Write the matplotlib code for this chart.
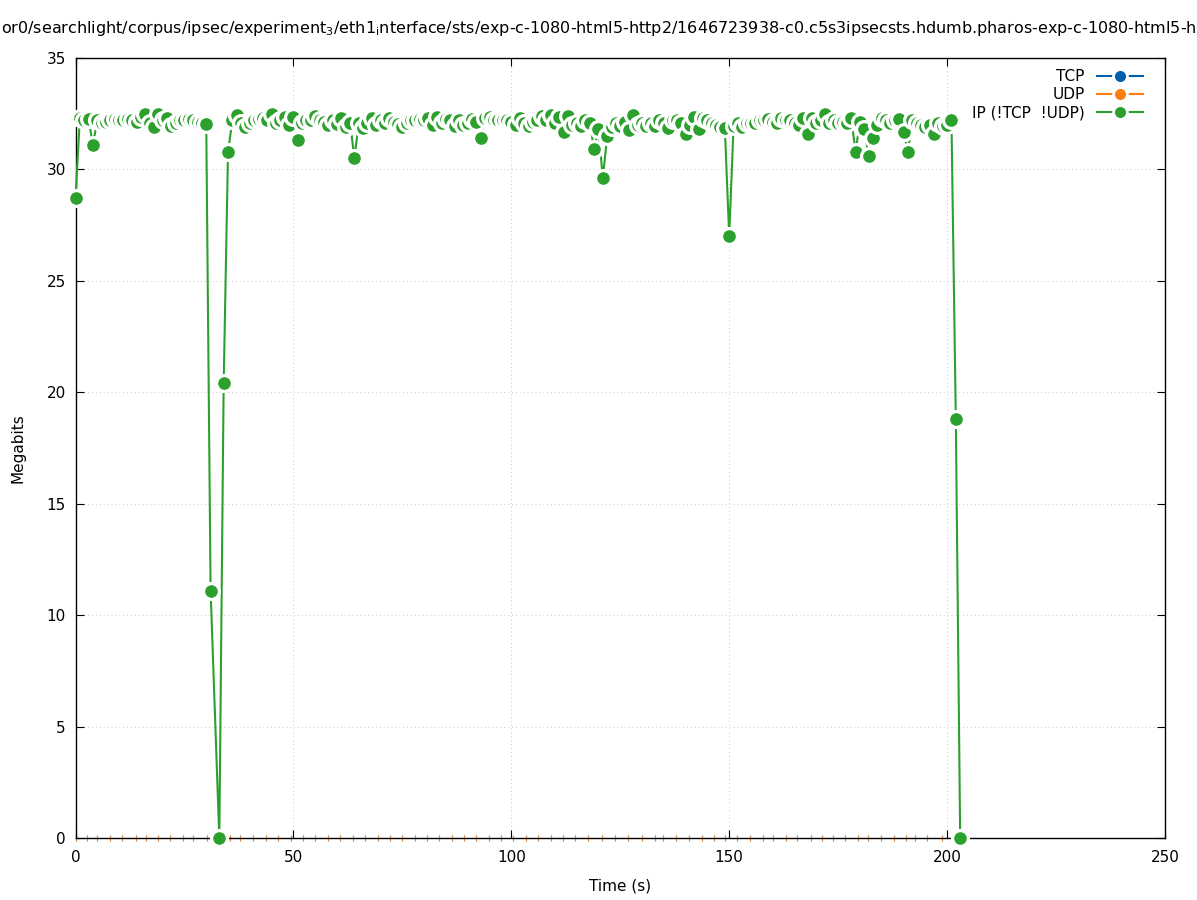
import matplotlib
matplotlib.use("Agg")
import matplotlib.pyplot as plt
from matplotlib.lines import Line2D


# sample times (s) -- one sample missing around t=32
time_s = list(range(0, 32)) + list(range(33, 204))

ip_mbit = [
    28.7, 32.3, 32.2, 32.25, 31.1, 32.2, 32.1, 32.15, 32.2, 32.25,      # 0-9
    32.2, 32.2, 32.25, 32.2, 32.15, 32.35, 32.5, 32.1, 31.9, 32.5,      # 10-19
    32.2, 32.3, 31.95, 32.1, 32.2, 32.2, 32.25, 32.2, 32.15, 32.1,      # 20-29
    32.05, 11.1,                                                        # 30-31
    0.0, 20.4, 30.8, 32.2, 32.45, 32.1, 31.9,                           # 33-39
    32.1, 32.2, 32.25, 32.3, 32.2, 32.5, 32.1, 32.2, 32.35, 32.0,       # 40-49
    32.35, 31.3, 32.1, 32.2, 32.2, 32.4, 32.2, 32.15, 32.0, 32.2,       # 50-59
    32.05, 32.3, 31.9, 32.1, 30.5, 32.1, 31.85, 32.1, 32.3, 32.0,       # 60-69
    32.2, 32.1, 32.3, 32.15, 32.05, 31.9, 32.1, 32.2, 32.2, 32.25,      # 70-79
    32.2, 32.3, 32.0, 32.35, 32.1, 32.25, 32.2, 31.95, 32.2, 32.0,      # 80-89
    32.1, 32.25, 32.15, 31.4, 32.3, 32.35, 32.2, 32.2, 32.2, 32.2,      # 90-99
    32.15, 32.0, 32.3, 32.1, 31.95, 32.15, 32.2, 32.4, 32.2, 32.45,     # 100-109
    32.1, 32.35, 31.7, 32.4, 32.0, 32.1, 31.95, 32.2, 32.1, 30.9,       # 110-119
    31.8, 29.6, 31.5, 31.9, 32.1, 31.95, 32.15, 31.75, 32.45, 32.0,     # 120-129
    32.1, 31.95, 32.1, 31.95, 32.2, 32.1, 31.85, 32.2, 32.2, 32.1,      # 130-139
    31.6, 32.0, 32.35, 31.8, 32.3, 32.2, 32.1, 32.0, 31.9, 31.85,       # 140-149
    27.0, 31.95, 32.1, 31.9, 32.1, 32.1, 32.1, 32.2, 32.2, 32.25,       # 150-159
    32.15, 32.1, 32.3, 32.2, 32.2, 32.1, 32.0, 32.3, 31.6, 32.3,        # 160-169
    32.1, 32.2, 32.5, 32.1, 32.2, 32.1, 32.15, 32.1, 32.3, 30.8,        # 170-179
    32.15, 31.8, 30.6, 31.4, 32.0, 32.3, 32.2, 32.1, 32.2, 32.25,       # 180-189
    31.7, 30.8, 32.2, 32.1, 32.0, 31.9, 32.0, 31.6, 32.1, 31.95,        # 190-199
    32.0, 32.2, 18.8, 0.0,                                              # 200-203
]

# TCP / UDP samples are all zero
udp_t = [0, 2.7, 5.0, 7.9, 10.7, 13.9, 16.2, 18.9, 21.7, 24.7, 27.0, 30.1,
         35.4, 37.7, 40.8, 43.8, 46.5, 49.4, 52.2, 55.0, 57.9, 60.8, 63.6,
         66.4, 69.3, 72.1, 75.0, 77.8, 80.6, 83.5, 86.3, 89.2, 92.0, 94.8,
         97.7, 100.5, 103.4, 106.2, 109.0, 111.9, 114.7, 117.6, 120.7, 123.8,
         126.8, 129.9, 132.9, 134.7, 137.7, 140.8, 143.8, 146.4, 149.1, 151.7,
         154.7, 157.8, 160.0, 163.0, 165.6, 168.7, 171.3, 173.9, 176.5, 179.6,
         181.8, 184.8, 187.9, 190.5, 192.7, 195.3, 198.8]
tcp_mbit = [0.0] * len(udp_t)
udp_mbit = [0.0] * len(udp_t)

series_labels = ["TCP", "UDP", "IP (!TCP  !UDP)"]
x_ticks = [0, 50, 100, 150, 200, 250]
y_ticks = [0, 5, 10, 15, 20, 25, 30, 35]

title = ("or0/searchlight/corpus/ipsec/experiment$_3$/eth1$_\\mathrm{i}$nterface/sts/"
         "exp-c-1080-html5-http2/1646723938-c0.c5s3ipsecsts.hdumb.pharos-exp-c-1080-html5-http2")

c_tcp = "#0060ad"
c_udp = "#ff7f0e"
c_ip = "#2ca02c"

plt.rcParams["font.family"] = ["DejaVu Sans"]
plt.rcParams["font.size"] = 11

fig = plt.figure(figsize=(11.97, 9.0), dpi=100)
ax = fig.add_axes([75.5 / 1197, 62 / 900, (1165 - 75.5) / 1197, 780 / 900])

# zero series drawn as short ticks along the axis
ax.plot(udp_t, tcp_mbit, ls="none", marker="|", ms=5, mew=0.8,
        color=c_tcp, alpha=0.5, clip_on=False, zorder=2)
ax.plot(udp_t, udp_mbit, ls="none", marker="|", ms=5, mew=0.8,
        color=c_udp, alpha=0.7, clip_on=False, zorder=2.1)

# linespoints with a white halo around each point
ax.plot(time_s, ip_mbit, color=c_ip, lw=1.5, marker="o", ms=11.4,
        mfc=c_ip, mec="white", mew=2.3, clip_on=False, zorder=3)

ax.set_xlim(0, 250)
ax.set_ylim(0, 35)
ax.set_xticks(x_ticks)
ax.set_yticks(y_ticks)
ax.tick_params(direction="in", length=6, width=0.8, top=True, right=True,
               labelsize=11, pad=7)
ax.tick_params(axis="x", pad=9)
ax.grid(True, color="#c8c8c8", lw=0.7, ls=(0, (1, 3)))
for s in ax.spines.values():
    s.set_linewidth(1.0)

fig.text(0.001, 1 - 28 / 900, title, ha="left", va="center", fontsize=11.5)
fig.text(18 / 1197, 1 - 448 / 900, "Megabits", rotation=90, ha="center", va="center")
fig.text(620 / 1197, 1 - 886 / 900, "Time (s)", ha="center", va="center")

handles = [
    Line2D([], [], color=c, lw=1.5, marker="o", ms=10, mfc=c, mec="white", mew=2)
    for c in (c_tcp, c_udp, c_ip)
]
ax.legend(handles, series_labels, loc="upper right",
          bbox_to_anchor=(1149 / 1197, 1 - 63 / 900), bbox_transform=fig.transFigure,
          markerfirst=False, frameon=False, handlelength=3.0, handletextpad=0.8,
          labelspacing=0.2, borderaxespad=0, fontsize=11)

fig.savefig("out.png", dpi=100)
